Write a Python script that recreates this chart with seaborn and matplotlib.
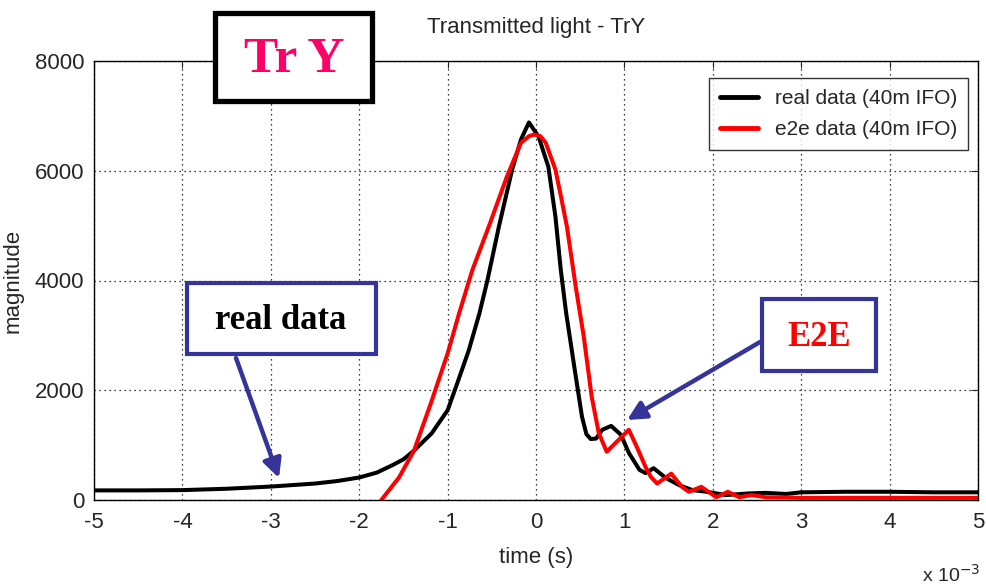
import numpy as np
import pandas as pd
import matplotlib.pyplot as plt
import seaborn as sns
from matplotlib.patches import Rectangle

# real data (40m IFO), time in units of 1e-3 s
real_t = [-5.0, -4.5, -4.0, -3.5, -3.0, -2.5, -2.25, -2.0, -1.8, -1.63, -1.5, -1.38,
          -1.18, -1.0, -0.89, -0.76, -0.64, -0.55, -0.42, -0.27, -0.17, -0.08, 0.03,
          0.14, 0.22, 0.28, 0.34, 0.45, 0.52, 0.57, 0.62, 0.68, 0.75, 0.85, 0.96,
          1.05, 1.17, 1.24, 1.33, 1.47, 1.62, 1.77, 1.93, 2.15, 2.41, 2.6, 2.83,
          3.0, 3.5, 4.0, 4.5, 5.0]
real_y = [175, 175, 180, 205, 245, 300, 345, 410, 500, 630, 740, 900,
          1215, 1635, 2130, 2730, 3400, 4000, 4980, 6020, 6570, 6880, 6620,
          6070, 5160, 4200, 3420, 2250, 1520, 1200, 1110, 1120, 1280, 1350, 1190,
          860, 550, 490, 580, 400, 270, 180, 150, 90, 120, 130, 110,
          140, 150, 150, 140, 140]

# e2e data (40m IFO)
e2e_t = [-1.75, -1.55, -1.38, -1.19, -1.0, -0.87, -0.72, -0.53, -0.33, -0.17, -0.08,
         -0.02, 0.05, 0.11, 0.22, 0.28, 0.35, 0.45, 0.54, 0.63, 0.71, 0.80, 0.90,
         1.05, 1.14, 1.24, 1.30, 1.37, 1.53, 1.65, 1.73, 1.87, 2.04, 2.17, 2.30,
         2.44, 2.6, 3.0, 4.0, 5.0]
e2e_y = [0, 410, 900, 1760, 2670, 3400, 4190, 5000, 5890, 6510, 6630,
         6660, 6630, 6510, 6020, 5550, 4980, 3880, 2980, 1880, 1220, 880, 1040,
         1280, 970, 600, 420, 300, 480, 240, 150, 240, 50, 150, 50,
         90, 50, 40, 40, 40]

xticks = [-5, -4, -3, -2, -1, 0, 1, 2, 3, 4, 5]
yticks = [0, 2000, 4000, 6000, 8000]

real_df = pd.DataFrame({"time": real_t, "magnitude": real_y})
e2e_df = pd.DataFrame({"time": e2e_t, "magnitude": e2e_y})

sns.set_style("white")
plt.rcParams["font.family"] = ["Liberation Sans Narrow", "Liberation Sans", "DejaVu Sans"]

W, H = 987, 588
fig = plt.figure(figsize=(W / 100, H / 100), dpi=100)
ax = fig.add_axes([94 / W, 1 - 500 / H, (978 - 94) / W, (500 - 61) / H])

sns.lineplot(data=real_df, x="time", y="magnitude", ax=ax, color="black",
             lw=2.9, label="real data (40m IFO)")
sns.lineplot(data=e2e_df, x="time", y="magnitude", ax=ax, color="#ff0000",
             lw=2.9, label="e2e data (40m IFO)")

ax.set_xlim(-5, 5)
ax.set_ylim(0, 8000)
ax.set_xticks(xticks)
ax.set_yticks(yticks)
ax.set_xticklabels([str(v) for v in xticks])
ax.set_yticklabels([str(v) for v in yticks])
ax.grid(True, color="black", ls=(0, (1, 3)), lw=0.9)

for s in ax.spines.values():
    s.set_visible(True)
    s.set_color("black")
    s.set_linewidth(1.0)

ax.tick_params(axis="x", direction="in", length=5, top=True, labelsize=16, pad=9)
ax.tick_params(axis="y", direction="in", length=5, right=True, labelsize=16, pad=7)

ax.set_title("Transmitted light - TrY", fontsize=16, pad=20)
ax.set_xlabel("time (s)", fontsize=16, labelpad=10)
ax.set_ylabel("magnitude", fontsize=16, labelpad=8)

leg = ax.legend(loc="upper right", fontsize=15, frameon=True, fancybox=False,
                handlelength=1.8, borderpad=0.55, labelspacing=0.55,
                bbox_to_anchor=(1.0008, 0.985))
leg.get_frame().set_edgecolor("black")
leg.get_frame().set_linewidth(1.0)
for line in leg.get_lines():
    line.set_linewidth(3.5)

fig.text(922 / W, 1 - 586 / H, r"x 10$^{-3}$", fontsize=14, ha="left", va="bottom")


def fig_box(x0, y0, x1, y1, edge, lw):
    # box given in pixel coords from top-left
    r = Rectangle((x0 / W, 1 - y1 / H), (x1 - x0) / W, (y1 - y0) / H,
                  transform=fig.transFigure, facecolor="white", edgecolor=edge,
                  lw=lw, zorder=10)
    fig.add_artist(r)


def fig_label(cx, cy, txt, color, size):
    fig.text(cx / W, 1 - cy / H, txt, color=color, fontsize=size, ha="center",
             va="center", family="Liberation Serif", weight="bold", zorder=11)


def fig_arrow(x0, y0, x1, y1):
    ax.annotate("", xy=(x1 / W, 1 - y1 / H), xytext=(x0 / W, 1 - y0 / H),
                xycoords="figure fraction", textcoords="figure fraction",
                arrowprops=dict(arrowstyle="-|>", color="#35349a", lw=3.2,
                                mutation_scale=28, shrinkA=0, shrinkB=0),
                zorder=9)


blue = "#35349a"
fig_box(215, 13, 372, 101, "black", 3.8)
fig_label(294, 60, "Tr Y", "#ff0066", 37)

fig_box(187, 283, 376, 354, blue, 3.0)
fig_label(281, 320, "real data", "black", 25)
fig_arrow(236, 358, 279, 478)

fig_box(762, 299, 876, 371, blue, 3.0)
fig_label(819, 337, "E2E", "#ff0000", 25)
fig_arrow(760, 342, 627, 420)

fig.savefig("out.png", dpi=100)
